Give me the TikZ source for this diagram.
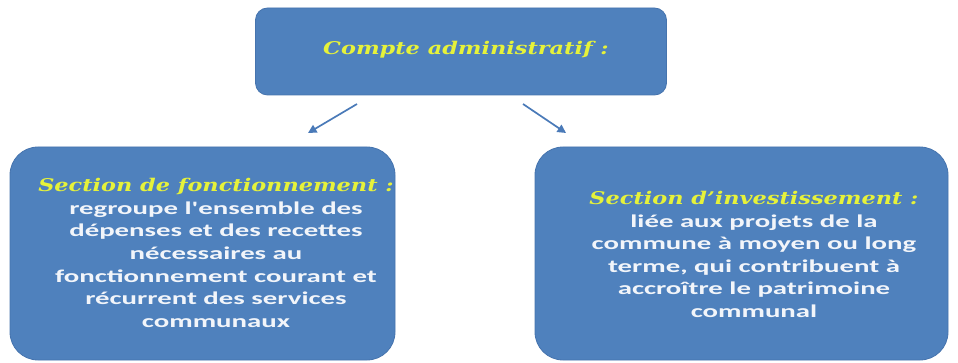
\documentclass[tikz,border=0pt]{standalone}
\usepackage{fontspec}
\newfontfamily\bodyfont[FakeStretch=1.6, BoldFont={Carlito Bold}]{Carlito}
\newfontfamily\titlefont[FakeStretch=1.28, UprightFont={DejaVu Serif Bold Italic}]{DejaVu Serif}
\usetikzlibrary{arrows.meta}
\definecolor{boxblue}{HTML}{4F81BD}
\definecolor{boxedge}{HTML}{4674AE}
\definecolor{titleyellow}{HTML}{E6F23A}
\definecolor{bodywhite}{HTML}{F2F5FA}
\definecolor{arrowblue}{HTML}{4A7AB8}
\tikzset{
  topbox/.style={draw=boxedge, line width=0.8pt, fill=boxblue, rounded corners=12pt, minimum width=411pt, minimum height=87pt, inner sep=0pt},
  secbox/.style={draw=boxedge, line width=0.8pt, fill=boxblue, rounded corners=28pt, inner sep=0pt, minimum height=213pt},
  sectext/.style={inner sep=0pt, align=center, font=\bodyfont\bfseries\fontsize{18}{22.6}\selectfont, text=bodywhite},
  titletext/.style={font=\titlefont\fontsize{17.5}{20}\selectfont, text=titleyellow},
  link/.style={draw=arrowblue, line width=1.7pt, -{Triangle[length=8.5pt,width=8.5pt]}}
}
\newcommand{\sectitle}[1]{{\titlefont\color{titleyellow}\fontsize{17.5}{22.6}\selectfont #1}}
\begin{document}
\begin{tikzpicture}[x=1pt,y=-1pt]
\useasboundingbox (0,0) rectangle (958,363);
\node[topbox] (top) at (461,51.5) {};
\node[titletext] (toptitle) at (466,50) {Compte administratif :};
\node[secbox, minimum width=385pt] (left) at (202.5,253.5) {};
\node[sectext] (lefttext) at (216,253) {%
\sectitle{Section de fonctionnement :}\\
regroupe l'ensemble des\\
dépenses et des recettes\\
nécessaires au\\
fonctionnement courant et\\
récurrent des services\\
communaux};
\node[secbox, minimum width=413pt] (right) at (741.5,253.5) {};
\node[sectext] (righttext) at (754,254.5) {%
\sectitle{Section d’investissement :}\\
liée aux projets de la\\
commune à moyen ou long\\
terme, qui contribuent à\\
accroître le patrimoine\\
communal};
\coordinate (l1) at (357,104);
\coordinate (l2) at (308,133);
\coordinate (r1) at (523,104);
\coordinate (r2) at (566,133);
\draw[link] (l1) -- (l2);
\draw[link] (r1) -- (r2);
\end{tikzpicture}
\end{document}
